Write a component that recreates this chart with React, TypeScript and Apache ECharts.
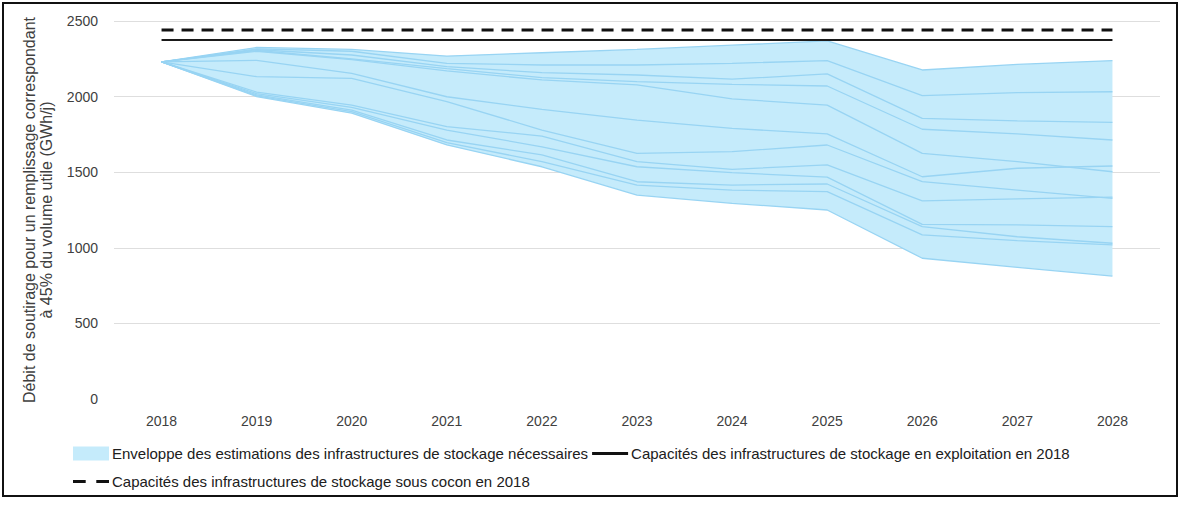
import React, { useEffect, useRef } from "react";
import * as echarts from "echarts";

const years = ["2018", "2019", "2020", "2021", "2022", "2023", "2024", "2025", "2026", "2027", "2028"];

const scenario1 = [2230, 2325, 2312, 2268, 2290, 2312, 2340, 2368, 2176, 2213, 2238];
const scenario2 = [2230, 2315, 2300, 2220, 2209, 2209, 2220, 2238, 2006, 2026, 2032];
const scenario3 = [2230, 2310, 2275, 2198, 2158, 2143, 2115, 2150, 1856, 1839, 1830];
const scenario4 = [2230, 2305, 2250, 2185, 2125, 2099, 2081, 2070, 1784, 1753, 1713];
const scenario5 = [2230, 2300, 2245, 2170, 2110, 2077, 1985, 1944, 1625, 1570, 1503];
const scenario6 = [2230, 2240, 2154, 1999, 1915, 1845, 1790, 1753, 1470, 1526, 1541];
const scenario7 = [2230, 2132, 2121, 1966, 1779, 1625, 1636, 1680, 1437, 1382, 1327];
const scenario8 = [2230, 2030, 1944, 1801, 1739, 1570, 1519, 1548, 1311, 1323, 1335];
const scenario9 = [2230, 2020, 1929, 1779, 1668, 1536, 1497, 1467, 1155, 1151, 1140];
const scenario10 = [2230, 2012, 1911, 1713, 1614, 1437, 1415, 1422, 1140, 1073, 1030];
const scenario11 = [2230, 2005, 1900, 1695, 1570, 1415, 1382, 1371, 1085, 1047, 1019];
const scenario12 = [2230, 2000, 1890, 1680, 1536, 1349, 1294, 1250, 931, 871, 813];

const scenarios = [
  scenario1, scenario2, scenario3, scenario4, scenario5, scenario6,
  scenario7, scenario8, scenario9, scenario10, scenario11, scenario12,
];

const capaciteExploitation = 2374;
const capaciteCocon = 2440;

const yTicks = [0, 500, 1000, 1500, 2000, 2500];

const envName = "Enveloppe des estimations des infrastructures de stockage nécessaires";
const exploitName = "Capacités des infrastructures de stockage en exploitation en 2018";
const coconName = "Capacités des infrastructures de stockage sous cocon en 2018";

const FILL = "#c5ebfb";
const LINE = "#98d4f3";
const FONT = "'Liberation Sans', Arial, sans-serif";

export default function App() {
  const ref = useRef<HTMLDivElement>(null);

  useEffect(() => {
    document.body.style.margin = "0";
    const chart = echarts.init(ref.current as HTMLDivElement, null, { renderer: "svg" });

    const envMin = years.map((_, i) => Math.min(...scenarios.map((s) => s[i])));
    const envMax = years.map((_, i) => Math.max(...scenarios.map((s) => s[i])));
    const envRange = envMax.map((v, i) => v - envMin[i]);

    const scenarioSeries = scenarios.map((s, k) => ({
      name: "scenario" + (k + 1),
      type: "line",
      data: s,
      symbol: "none",
      showSymbol: false,
      lineStyle: { color: LINE, width: 1.3 },
      itemStyle: { color: LINE },
      z: 3,
      silent: true,
    }));

    const legendText = { fontSize: 15, color: "#202020", fontFamily: FONT, padding: [0, 0, 0, -2] };

    const option: any = {
      animation: false,
      backgroundColor: "#ffffff",
      grid: { left: 114, right: 21, top: 21, bottom: 107 },
      xAxis: {
        type: "category",
        data: years,
        boundaryGap: true,
        axisLine: { show: false },
        axisTick: { show: false },
        axisLabel: { margin: 15, fontSize: 14, color: "#404040", fontFamily: FONT },
        splitLine: { show: false },
      },
      yAxis: {
        type: "value",
        min: yTicks[0],
        max: yTicks[yTicks.length - 1],
        interval: 500,
        axisLine: { show: false },
        axisTick: { show: false },
        axisLabel: {
          margin: 16,
          fontSize: 14,
          color: "#404040",
          fontFamily: FONT,
          formatter: (v: number) => String(v),
        },
        splitLine: {
          show: true,
          lineStyle: { color: ["#ffffff", "#dedede", "#dedede", "#dedede", "#dedede", "#dedede"], width: 1 },
        },
        name: "Débit de soutirage pour un remplissage correspondant\nà 45% du volume utile (GWh/j)",
        nameLocation: "middle",
        nameGap: 59,
        nameTextStyle: {
          fontSize: 16,
          color: "#404040",
          lineHeight: 17,
          fontFamily: FONT,
        },
      },
      legend: [
        {
          left: 73,
          top: 446,
          padding: 0,
          itemGap: 4,
          itemWidth: 36,
          itemHeight: 14,
          textStyle: legendText,
          data: [
            { name: envName, icon: "rect", itemStyle: { color: FILL } },
            { name: exploitName, icon: "path://M0,0h36v3h-36z", itemStyle: { color: "#111111" } },
          ],
        },
        {
          left: 73,
          top: 474,
          padding: 0,
          itemGap: 4,
          itemWidth: 36,
          itemHeight: 14,
          textStyle: legendText,
          data: [{ name: coconName, icon: "path://M0,0h12v3h-12z M22,0h12v3h-12z", itemStyle: { color: "#111111" } }],
        },
      ],
      graphic: [
        {
          type: "rect",
          shape: { x: 3, y: 3, width: 1174, height: 493 },
          style: { fill: "none", stroke: "#111111", lineWidth: 2 },
          silent: true,
        },
      ],
      series: [
        {
          name: "envBase",
          type: "line",
          stack: "env",
          data: envMin,
          symbol: "none",
          lineStyle: { opacity: 0, width: 0 },
          silent: true,
          z: 1,
        },
        {
          name: envName,
          type: "line",
          stack: "env",
          data: envRange,
          symbol: "none",
          lineStyle: { opacity: 0, width: 0 },
          itemStyle: { color: FILL },
          areaStyle: { color: FILL, opacity: 1 },
          silent: true,
          z: 2,
        },
        ...scenarioSeries,
        {
          name: exploitName,
          type: "line",
          data: years.map(() => capaciteExploitation),
          symbol: "none",
          lineStyle: { color: "#1a1a1a", width: 2, type: "solid" },
          itemStyle: { color: "#1a1a1a" },
          z: 4,
        },
        {
          name: coconName,
          type: "line",
          data: years.map(() => capaciteCocon),
          symbol: "none",
          lineStyle: { color: "#111111", width: 3, type: [12, 8] },
          itemStyle: { color: "#111111" },
          z: 4,
        },
      ],
    };

    chart.setOption(option);
    return () => chart.dispose();
  }, []);

  return (
    <div
      ref={ref}
      style={{ position: "absolute", left: 0, top: 0, width: 1181, height: 506 }}
    />
  );
}
